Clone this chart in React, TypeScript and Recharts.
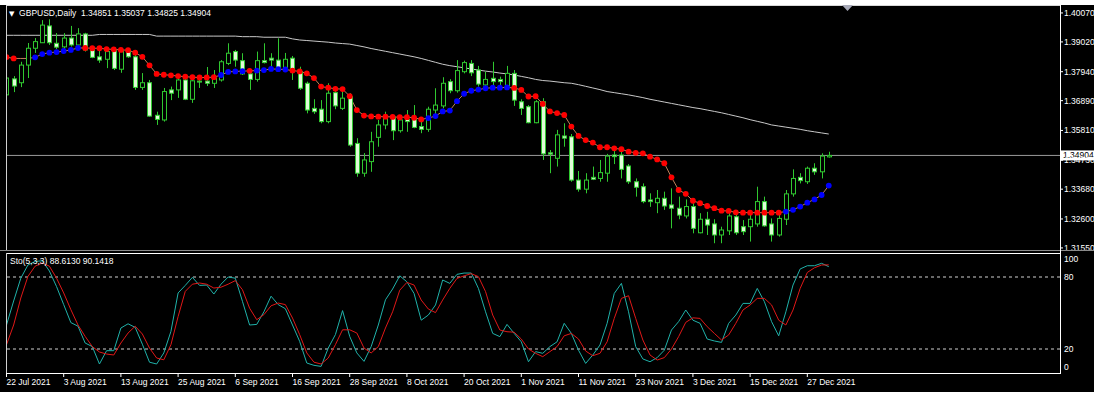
import { ComposedChart, LineChart, Line, Bar, XAxis, YAxis, ReferenceLine } from "recharts";

// GBPUSD daily, 22 Jul 2021 .. end of Dec 2021 (one entry per bar)
const openPrices = [
  1.371, 1.3768, 1.3754, 1.3818, 1.3879, 1.3899, 1.396, 1.3897, 1.3884, 1.3916,
  1.3891, 1.3931, 1.3873, 1.3848, 1.3839, 1.387, 1.3803, 1.387, 1.3848, 1.3737,
  1.3754, 1.3636, 1.3619, 1.3728, 1.3728, 1.3764, 1.3694, 1.376, 1.376, 1.3752,
  1.3764, 1.3824, 1.3867, 1.3834, 1.3786, 1.3766, 1.3834, 1.3843, 1.3836, 1.3806,
  1.3843, 1.3794, 1.3752, 1.3661, 1.3658, 1.3613, 1.3718, 1.3661, 1.3703, 1.3534,
  1.3426, 1.3468, 1.3556, 1.3601, 1.3629, 1.358, 1.3621, 1.3621, 1.3595, 1.3585,
  1.3655, 1.367, 1.3758, 1.3725, 1.3794, 1.3824, 1.38, 1.3746, 1.377, 1.3766,
  1.3742, 1.3788, 1.3685, 1.3667, 1.3609, 1.3685, 1.35, 1.348, 1.3561, 1.3558,
  1.3401, 1.3368, 1.3411, 1.3407, 1.3426, 1.3492, 1.3492, 1.3452, 1.3395, 1.3377,
  1.3329, 1.3319, 1.3335, 1.3311, 1.3299, 1.3271, 1.3305, 1.321, 1.3259, 1.3242,
  1.3202, 1.3217, 1.3268, 1.3232, 1.3232, 1.3242, 1.3323, 1.3242, 1.3202, 1.3259,
  1.3351, 1.3411, 1.3395, 1.3444, 1.3431, 1.34851,
];
const highPrices = [
  1.3789, 1.3778, 1.383, 1.3898, 1.3916, 1.3981, 1.3984, 1.3934, 1.3934, 1.396,
  1.3952, 1.3935, 1.3885, 1.3873, 1.388, 1.388, 1.388, 1.388, 1.3855, 1.3789,
  1.3764, 1.3649, 1.3735, 1.374, 1.3782, 1.3782, 1.3782, 1.3776, 1.3811, 1.38,
  1.3836, 1.3897, 1.3873, 1.3861, 1.38, 1.3867, 1.3897, 1.3861, 1.3915, 1.3862,
  1.3851, 1.3812, 1.3758, 1.3694, 1.3691, 1.3752, 1.374, 1.3734, 1.3716, 1.3553,
  1.3499, 1.3576, 1.3619, 1.3649, 1.3633, 1.3631, 1.3655, 1.3673, 1.3625, 1.3667,
  1.3734, 1.3774, 1.3767, 1.3836, 1.3834, 1.3836, 1.3815, 1.3794, 1.383, 1.3776,
  1.3815, 1.38, 1.3694, 1.3673, 1.3691, 1.3698, 1.351, 1.3583, 1.3607, 1.3568,
  1.3434, 1.3426, 1.345, 1.3474, 1.3496, 1.3513, 1.3516, 1.3459, 1.3407, 1.3389,
  1.3353, 1.3365, 1.3359, 1.3371, 1.3341, 1.3331, 1.3317, 1.3281, 1.3286, 1.3259,
  1.3232, 1.3281, 1.3286, 1.3256, 1.3281, 1.3377, 1.3341, 1.3262, 1.3281, 1.3365,
  1.344, 1.3426, 1.345, 1.3462, 1.3498, 1.35037,
];
const lowPrices = [
  1.3691, 1.372, 1.3738, 1.3771, 1.3862, 1.3898, 1.3891, 1.3876, 1.3873, 1.3885,
  1.388, 1.3867, 1.3843, 1.3826, 1.3807, 1.38, 1.379, 1.3844, 1.3728, 1.3728,
  1.3631, 1.3601, 1.3613, 1.3691, 1.3699, 1.3691, 1.3681, 1.3735, 1.3742, 1.3735,
  1.3758, 1.3818, 1.3812, 1.3782, 1.3728, 1.3758, 1.3824, 1.38, 1.38, 1.38,
  1.3764, 1.3728, 1.3643, 1.3641, 1.3607, 1.3607, 1.3658, 1.3655, 1.3522, 1.3413,
  1.3413, 1.3431, 1.3522, 1.3585, 1.3546, 1.3573, 1.3576, 1.3589, 1.3571, 1.3576,
  1.3631, 1.3661, 1.3716, 1.3718, 1.3788, 1.3778, 1.374, 1.374, 1.374, 1.3734,
  1.3734, 1.367, 1.3637, 1.3607, 1.3607, 1.3474, 1.3426, 1.345, 1.3522, 1.3395,
  1.3359, 1.3353, 1.3401, 1.3395, 1.3395, 1.3459, 1.3407, 1.3387, 1.3341, 1.3317,
  1.3304, 1.3281, 1.3293, 1.3226, 1.3259, 1.3262, 1.3208, 1.3208, 1.3202, 1.3172,
  1.3172, 1.3202, 1.3202, 1.3202, 1.3178, 1.3232, 1.3232, 1.3178, 1.3196, 1.3238,
  1.3341, 1.3389, 1.3387, 1.342, 1.3407, 1.34825,
];
const closePrices = [
  1.3771, 1.3742, 1.3818, 1.3879, 1.3903, 1.3963, 1.3899, 1.3883, 1.3916, 1.3891,
  1.3931, 1.3873, 1.3846, 1.3836, 1.3867, 1.3806, 1.387, 1.3848, 1.3737, 1.3754,
  1.3633, 1.3621, 1.3722, 1.3716, 1.3764, 1.3694, 1.3761, 1.3757, 1.3752, 1.3771,
  1.383, 1.3861, 1.3836, 1.3786, 1.3766, 1.3834, 1.3827, 1.3836, 1.3803, 1.3839,
  1.3794, 1.3734, 1.3655, 1.3649, 1.3613, 1.3716, 1.367, 1.3698, 1.3528, 1.3426,
  1.3474, 1.354, 1.3601, 1.3625, 1.358, 1.3619, 1.3613, 1.3592, 1.3585, 1.3658,
  1.3673, 1.3752, 1.3725, 1.3798, 1.3827, 1.379, 1.3749, 1.3766, 1.3758, 1.3758,
  1.3788, 1.3691, 1.3661, 1.3609, 1.3685, 1.3496, 1.3495, 1.3565, 1.3553, 1.3401,
  1.3368, 1.3401, 1.3404, 1.3428, 1.3488, 1.3486, 1.344, 1.3395, 1.3375, 1.3323,
  1.3323, 1.3335, 1.3307, 1.3299, 1.3274, 1.3305, 1.3226, 1.3259, 1.3238, 1.3202,
  1.322, 1.3271, 1.321, 1.3214, 1.3259, 1.3323, 1.3235, 1.3202, 1.3262, 1.3351,
  1.3407, 1.3399, 1.3444, 1.3431, 1.3488, 1.34904,
];

// slow moving average (grey line)
const maValues = [
  1.3926, 1.3926, 1.3926, 1.3926, 1.3926, 1.3926, 1.3926, 1.3926, 1.3926, 1.3926,
  1.3926, 1.3926, 1.3926, 1.3929, 1.3929, 1.3929, 1.3929, 1.3929, 1.3929, 1.3929,
  1.3929, 1.3923, 1.3923, 1.3923, 1.3923, 1.3923, 1.3923, 1.3923, 1.3923, 1.3923,
  1.3923, 1.3923, 1.3923, 1.3921, 1.3921, 1.3921, 1.3919, 1.3919, 1.3919, 1.3919,
  1.3913, 1.3909, 1.3907, 1.3905, 1.3903, 1.3901, 1.3898, 1.3896, 1.3894, 1.3889,
  1.3884, 1.3878, 1.3873, 1.3868, 1.3863, 1.3858, 1.3853, 1.3848, 1.3842, 1.3835,
  1.3828, 1.3821, 1.3816, 1.3812, 1.3808, 1.3804, 1.38, 1.3796, 1.3793, 1.3789,
  1.3786, 1.3782, 1.3777, 1.3772, 1.3766, 1.3762, 1.376, 1.3757, 1.3754, 1.3752,
  1.3747, 1.3741, 1.3735, 1.3729, 1.3722, 1.3718, 1.3714, 1.371, 1.3705, 1.37,
  1.3694, 1.3689, 1.3684, 1.3679, 1.3674, 1.3669, 1.3664, 1.366, 1.3655, 1.365,
  1.3645, 1.3639, 1.3633, 1.3627, 1.362, 1.3614, 1.3608, 1.3601, 1.3597, 1.3593,
  1.3589, 1.3585, 1.358, 1.3576, 1.3572, 1.3568,
];

// dotted trend indicator: value and dot colour (r = falling, b = rising, n = no dot)
const trendValues = [
  1.3847, 1.3842, 1.3842, 1.3842, 1.3846, 1.3858, 1.3863, 1.3865, 1.3869, 1.3873,
  1.388, 1.388, 1.3879, 1.3879, 1.3876, 1.3875, 1.3873, 1.3872, 1.3863, 1.3848,
  1.3817, 1.3786, 1.3783, 1.3781, 1.3778, 1.3776, 1.3774, 1.3773, 1.3773, 1.3774,
  1.3782, 1.3793, 1.3795, 1.3796, 1.3797, 1.3798, 1.38, 1.3804, 1.3803, 1.3802,
  1.3798, 1.3795, 1.3788, 1.3771, 1.374, 1.3736, 1.3732, 1.3731, 1.3705, 1.3655,
  1.3635, 1.3632, 1.3631, 1.3631, 1.363, 1.3629, 1.3629, 1.3627, 1.3621, 1.3626,
  1.3633, 1.365, 1.3653, 1.3687, 1.3714, 1.3725, 1.3729, 1.3734, 1.3736, 1.3736,
  1.3737, 1.3735, 1.3728, 1.3704, 1.3705, 1.3677, 1.365, 1.3644, 1.3637, 1.3595,
  1.3561, 1.3546, 1.3537, 1.352, 1.352, 1.3516, 1.3513, 1.3504, 1.35, 1.3498,
  1.3486, 1.3476, 1.3462, 1.3411, 1.3365, 1.3351, 1.3326, 1.3317, 1.3307, 1.3299,
  1.329, 1.3289, 1.3284, 1.3283, 1.3283, 1.3283, 1.3283, 1.3283, 1.3283, 1.3287,
  1.3293, 1.3305, 1.3319, 1.3331, 1.3347, 1.3381,
];
const trendColors = [
  "r", "r", "n", "n", "b", "b", "b", "b", "b", "b",
  "b", "r", "r", "r", "r", "r", "r", "r", "r", "r",
  "r", "r", "r", "r", "r", "r", "r", "r", "r", "r",
  "b", "b", "b", "b", "r", "b", "b", "b", "b", "b",
  "r", "r", "r", "r", "r", "r", "r", "r", "r", "r",
  "r", "r", "r", "r", "r", "r", "r", "r", "r", "b",
  "b", "b", "b", "b", "b", "b", "b", "b", "b", "b",
  "b", "r", "r", "r", "r", "r", "r", "r", "r", "r",
  "r", "r", "r", "r", "r", "r", "r", "r", "r", "r",
  "r", "r", "r", "r", "r", "r", "r", "r", "r", "r",
  "r", "r", "r", "r", "r", "r", "r", "r", "r", "b",
  "b", "b", "b", "b", "b", "b",
];

// Stochastic (5,3,3)
const stochK = [
  40, 60, 79, 90, 93, 93.5, 85, 72, 57, 42,
  39, 25, 22, 7.5, 18.6, 18.6, 37.5, 41, 38, 24,
  9, 7.5, 16.7, 34.7, 66.7, 73, 79.7, 73, 73.3, 65.8,
  74, 80, 79, 59.7, 40, 40.5, 51, 64, 57, 53.6,
  40, 26.4, 8.3, 6.4, 5.5, 20.8, 32, 52, 30.5, 16.7,
  9.7, 22, 40, 61, 70, 81, 76, 66.3, 44, 48.3,
  56.7, 77.5, 74.7, 82.2, 83.3, 83.3, 70.5, 51, 33, 30.3,
  40.5, 33, 26, 9.4, 17.8, 16.4, 22, 26, 41.4, 33,
  19, 8, 15, 23.3, 41.4, 66.3, 74.7, 51, 22, 11.7,
  9.4, 12.8, 19, 35.8, 42.8, 52.5, 44, 41.4, 28.3, 26.7,
  25.5, 41.4, 48.3, 58, 58, 70.5, 59.4, 42.8, 31, 51,
  73.3, 86.7, 89.4, 89.4, 91.4, 88.613,
];
const stochD = [
  23.6, 40, 62.5, 80.5, 89, 91.7, 89, 79, 66.7, 52.8,
  40, 30.5, 22, 17.5, 15.8, 15, 25, 33.3, 39, 32.5,
  20.8, 12.5, 11, 23.6, 47, 68, 74, 75, 74, 70.8,
  71.5, 74, 77, 69.4, 54, 44.4, 48.6, 56, 58.3, 57,
  45.8, 32, 16.7, 9, 7.5, 12.5, 23.6, 36, 36, 33.3,
  20.8, 16.7, 22, 37.5, 51, 69, 75.5, 73.3, 60.8, 53.3,
  50.3, 60.8, 70.5, 78.8, 81, 82.8, 80.3, 67.8, 48.3, 35.8,
  34.4, 34, 28.3, 20, 16.4, 13.6, 17.8, 22, 31, 33,
  28.3, 18.3, 14.4, 16.4, 26, 45.5, 62.2, 64.4, 45.5, 27.5,
  15, 10.8, 12.8, 20, 30.3, 42.2, 46, 45.5, 38.6, 33,
  27.5, 31.7, 41.4, 52.5, 56.7, 62.2, 62.2, 56.7, 44, 40,
  52.5, 70.5, 83.8, 87.7, 90, 90.1418,
];

const priceTicks = [1.3155, 1.326, 1.3368, 1.3473, 1.3581, 1.3689, 1.3794, 1.3902, 1.4007];
const stochTicks = [0, 20, 80, 100];
const dateTickIndex = [0, 8, 16, 24, 32, 40, 48, 56, 64, 72, 80, 88, 96, 104, 112];
const dateTickLabels = [
  "22 Jul 2021", "3 Aug 2021", "13 Aug 2021", "25 Aug 2021", "6 Sep 2021",
  "16 Sep 2021", "28 Sep 2021", "8 Oct 2021", "20 Oct 2021", "1 Nov 2021",
  "11 Nov 2021", "23 Nov 2021", "3 Dec 2021", "15 Dec 2021", "27 Dec 2021",
];

const FONT = '"Liberation Sans", Arial, sans-serif';
const CANDLE_GREEN = "#30c830";
const BEAR_FILL = "#e0fcd8";
const X_DOMAIN: [number, number] = [-0.07, 147.34];
const PRICE_DOMAIN: [number, number] = [1.31475, 1.40322];

const data = openPrices.map((open, i) => ({
  i,
  open,
  high: highPrices[i],
  low: lowPrices[i],
  close: closePrices[i],
  ma: maValues[i],
  trend: trendValues[i],
  k: stochK[i],
  d: stochD[i],
}));

const last = data[data.length - 1];

function Candle(props: any) {
  const { x, y, width, height, payload } = props;
  if (x == null || !payload) return null;
  const top = Math.min(y, y + height);
  const h = Math.abs(height);
  const { open, high, low, close } = payload;
  const k = h / (high - low || 1);
  const yo = top + (high - open) * k;
  const yc = top + (high - close) * k;
  const cx = Math.round(x + width / 2) + 0.5;
  const bodyTop = Math.min(yo, yc);
  const bodyH = Math.max(Math.abs(yc - yo), 1);
  const bull = close >= open;
  return (
    <g>
      <line x1={cx} x2={cx} y1={top} y2={top + h} stroke={CANDLE_GREEN} />
      <rect x={cx - 2} y={bodyTop} width={4} height={bodyH} fill={bull ? "#000" : BEAR_FILL} stroke={CANDLE_GREEN} />
    </g>
  );
}

function TrendDot(props: any) {
  const { cx, cy, index } = props;
  const c = trendColors[index];
  if (cx == null || c === "n") return <g key={`td-${index}`} />;
  return <circle key={`td-${index}`} cx={cx} cy={cy} r={2.9} fill={c === "r" ? "#ff0000" : "#0000ff"} />;
}

function PriceTag(props: any) {
  const vb = props.viewBox;
  if (!vb) return null;
  const x = vb.x + vb.width + 1;
  return (
    <g>
      <rect x={x} y={vb.y - 5} width={33} height={10} fill="#ffffff" />
      <text x={x + 2} y={vb.y} dy="0.35em" fontSize={8.5} fontFamily={FONT} fill="#000">
        {last.close.toFixed(5)}
      </text>
    </g>
  );
}

function DateTick(props: any) {
  const { x, y, payload } = props;
  const label = dateTickLabels[dateTickIndex.indexOf(payload.value)];
  return (
    <text x={x} y={y} dy="0.65em" fill="#fff" fontSize={8.5} fontFamily={FONT} textAnchor="start">
      {label}
    </text>
  );
}

function StochTick(props: any) {
  const { x, y, payload } = props;
  // top and bottom labels are kept inside the window, like the terminal does
  const shift = payload.value === 100 ? 6 : payload.value === 0 ? -6 : 0;
  return (
    <text x={x} y={y + shift} dy="0.35em" fill="#fff" fontSize={8.5} fontFamily={FONT} textAnchor="start">
      {payload.value}
    </text>
  );
}

function Frame() {
  return (
    <svg width={1100} height={397} style={{ position: "absolute", left: 0, top: 0, pointerEvents: "none" }}>
      <line x1={6} x2={1061} y1={5.5} y2={5.5} stroke="#d8d8d8" />
      <line x1={6.5} x2={6.5} y1={5} y2={250} stroke="#d0d0d0" />
      <line x1={0} x2={1094} y1={250.5} y2={250.5} stroke="#8a8a8a" />
      <line x1={6} x2={1061} y1={253.5} y2={253.5} stroke="#ffffff" />
      <line x1={6.5} x2={6.5} y1={253} y2={374} stroke="#d0d0d0" />
      <line x1={6} x2={1061} y1={373.5} y2={373.5} stroke="#ffffff" />
      <line x1={1060.5} x2={1060.5} y1={5} y2={374} stroke="#ffffff" />
      <polygon points="842,5 853,5 847.5,11" fill="#a8aab8" />
    </svg>
  );
}

export default function App() {
  return (
    <div style={{ position: "absolute", left: 0, top: 0, width: 1100, height: 397, background: "#fff", overflow: "hidden" }}>
      <div style={{ position: "absolute", left: 0, top: 5, width: 1094, height: 387, background: "#000" }} />

      <div style={{ position: "absolute", left: 0, top: 0 }}>
        <ComposedChart width={1100} height={256} data={data} margin={{ top: 6, right: 0, bottom: 6, left: 6 }}>
          <XAxis dataKey="i" type="number" domain={X_DOMAIN} allowDataOverflow hide />
          <YAxis
            orientation="right"
            width={40}
            domain={PRICE_DOMAIN}
            allowDataOverflow
            ticks={priceTicks}
            interval={0}
            tickFormatter={(v: number) => v.toFixed(5)}
            tick={{ fill: "#fff", fontSize: 8.5, fontFamily: FONT }}
            axisLine={false}
            tickLine={{ stroke: "#fff" }}
            tickSize={3}
            tickMargin={1}
          />
          <ReferenceLine y={last.close} stroke="#9a9a9a" label={(p: any) => <PriceTag {...p} />} />
          <Line dataKey="ma" type="linear" stroke="#c8c8c8" strokeWidth={1} dot={false} isAnimationActive={false} />
          <Line
            dataKey="trend"
            type="linear"
            stroke="#c0805a"
            strokeWidth={1}
            dot={(p: any) => <TrendDot key={`td-${p.index}`} {...p} />}
            activeDot={false}
            isAnimationActive={false}
          />
          <Bar
            dataKey={(d: any) => [d.low, d.high]}
            barSize={5}
            shape={(p: any) => <Candle {...p} />}
            isAnimationActive={false}
            zIndex={450}
          />
        </ComposedChart>
      </div>

      <div style={{ position: "absolute", left: 0, top: 253 }}>
        <LineChart width={1100} height={144} data={data} margin={{ top: 0, right: 0, bottom: 0, left: 6 }}>
          <XAxis
            dataKey="i"
            type="number"
            domain={X_DOMAIN}
            allowDataOverflow
            ticks={dateTickIndex}
            interval={0}
            height={24}
            axisLine={false}
            tickLine={{ stroke: "#fff" }}
            tickSize={4}
            tickMargin={2}
            tick={(p: any) => <DateTick {...p} />}
          />
          <YAxis
            orientation="right"
            width={40}
            domain={[0, 100]}
            ticks={stochTicks}
            interval={0}
            axisLine={false}
            tickLine={false}
            tickSize={3}
            tickMargin={1}
            tick={(p: any) => <StochTick {...p} />}
          />
          <ReferenceLine y={80} stroke="#d0d0d0" strokeDasharray="3 3" />
          <ReferenceLine y={20} stroke="#d0d0d0" strokeDasharray="3 3" />
          <Line dataKey="k" type="linear" stroke="#20b2aa" strokeWidth={1} dot={false} isAnimationActive={false} />
          <Line dataKey="d" type="linear" stroke="#e01818" strokeWidth={1} dot={false} isAnimationActive={false} />
        </LineChart>
      </div>

      <Frame />

      <div style={{ position: "absolute", left: 9, top: 8, color: "#fff", fontSize: 8.5, fontFamily: FONT, lineHeight: "10px", whiteSpace: "pre" }}>
        <span style={{ fontFamily: '"DejaVu Sans"', fontSize: 7 }}>▼</span>
        {"  GBPUSD,Daily  1.34851 1.35037 1.34825 1.34904"}
      </div>
      <div style={{ position: "absolute", left: 10, top: 256, color: "#fff", fontSize: 8.5, fontFamily: FONT, lineHeight: "10px", whiteSpace: "pre" }}>
        {"Sto(5,3,3) 88.6130 90.1418"}
      </div>
    </div>
  );
}
